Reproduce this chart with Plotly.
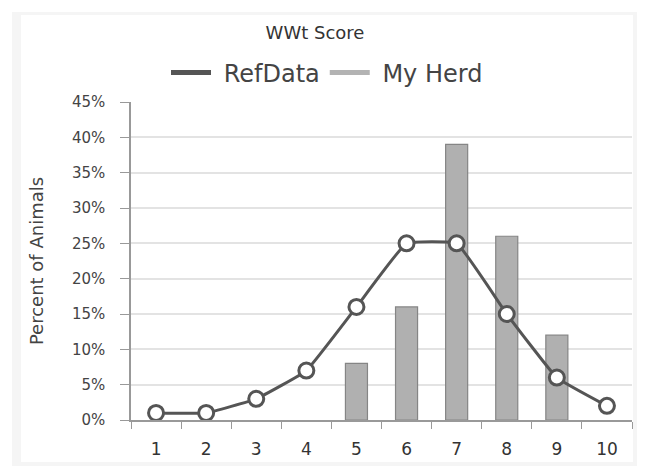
import plotly.graph_objects as go

categories = ["1", "2", "3", "4", "5", "6", "7", "8", "9", "10"]
ref_data = [0.01, 0.01, 0.03, 0.07, 0.16, 0.25, 0.25, 0.15, 0.06, 0.02]
my_herd = [None, None, None, None, 0.08, 0.16, 0.39, 0.26, 0.12, None]
y_ticks = [0, 0.05, 0.10, 0.15, 0.20, 0.25, 0.30, 0.35, 0.40, 0.45]

# page body has an 8px margin; compensate so the plot lands on target pixels
OFF = 8
W, H = 645 - OFF, 466 - OFF
L, R, T, B = 131 - OFF, 13, 102 - OFF, 46
pw = W - L - R
ph = H - T - B

FONT = "DejaVu Sans, Verdana, sans-serif"

def px_x(p):
    return (p - OFF - L) / pw

def px_y(p):
    return (H - B - (p - OFF)) / ph

fig = go.Figure()
fig.add_trace(go.Bar(
    x=categories, y=my_herd, name="My Herd", showlegend=False,
    width=0.44,
    marker=dict(color="#b0b0b0", line=dict(color="#858585", width=1.2)),
))
fig.add_trace(go.Scatter(
    x=categories, y=ref_data, name="RefData", mode="lines+markers",
    showlegend=False, cliponaxis=False,
    line=dict(color="#555555", width=3, shape="spline", smoothing=0.3),
    marker=dict(size=15, color="white", line=dict(color="#555555", width=3)),
))
# legend entries (line symbols)
fig.add_trace(go.Scatter(x=[None], y=[None], mode="lines", name="\u00a0RefData",
                         line=dict(color="#555555", width=5)))
fig.add_trace(go.Scatter(x=[None], y=[None], mode="lines", name="\u00a0My Herd",
                         line=dict(color="#b3b3b3", width=5)))

shapes = [
    dict(type="rect", xref="paper", yref="paper", layer="below",
         x0=px_x(12), x1=px_x(645), y0=px_y(466), y1=px_y(12),
         fillcolor="#f5f5f5", line=dict(width=0)),
    dict(type="rect", xref="paper", yref="paper", layer="below",
         x0=px_x(21), x1=px_x(633), y0=px_y(462), y1=px_y(15),
         fillcolor="white", line=dict(width=0)),
]

fig.update_layout(
    width=W, height=H,
    margin=dict(l=L, r=R, t=T, b=B, autoexpand=False),
    paper_bgcolor="white", plot_bgcolor="white",
    font=dict(family=FONT, color="#444444"),
    title=dict(text="WWt Score", x=(315 - OFF) / W, xanchor="center",
               y=1 - (33 - OFF) / H, yanchor="middle",
               font=dict(family=FONT, size=18, color="#333333")),
    legend=dict(orientation="h", x=px_x(327), xanchor="center",
                y=px_y(73), yanchor="middle",
                font=dict(family=FONT, size=24, color="#444444"),
                itemwidth=40, traceorder="normal", bgcolor="rgba(0,0,0,0)"),
    shapes=shapes,
    showlegend=True,
)
fig.update_xaxes(
    type="category", tickson="boundaries", ticks="outside", ticklen=7,
    tickcolor="#999999", showline=True, linecolor="#999999", linewidth=1.5,
    showgrid=False, tickfont=dict(family=FONT, size=17, color="#333333"),
    ticklabelstandoff=13, automargin=False,
    range=[-0.5, 9.5],
)
fig.update_yaxes(
    range=[0, 0.45], tickvals=y_ticks, tickformat=".0%",
    ticks="outside", ticklen=9, tickcolor="#999999",
    showline=True, linecolor="#999999", linewidth=1.5,
    showgrid=True, gridcolor="#e3e3e3", gridwidth=1.5,
    tickfont=dict(family=FONT, size=15, color="#444444"),
    ticklabelstandoff=12, automargin=False,
    title=dict(text="Percent of Animals",
               font=dict(family=FONT, size=18, color="#444444"),
               standoff=24),
    zeroline=False,
)

fig.write_html("out.html")
